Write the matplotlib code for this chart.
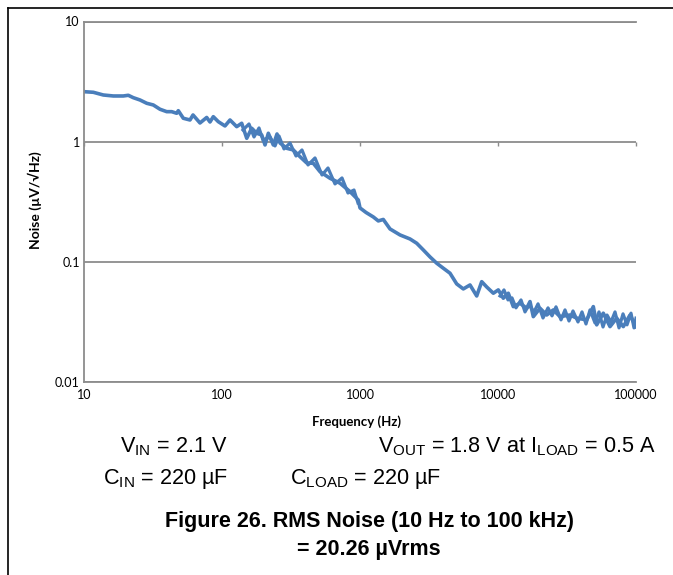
import matplotlib.pyplot as plt
from matplotlib.ticker import NullLocator
from matplotlib.lines import Line2D

# Output noise spectral density, main sweep
freq_hz = [10, 11.68, 13.8, 16.31, 19.27, 20.94, 22.76, 25.45, 28.47, 31.78,
           35.54, 39.75, 43.2, 46.96, 48.23, 52.43, 58.62, 61.65, 69.27, 77.46,
           81.85, 86.5, 94.0, 105.1, 114.3, 127.8, 138.9, 151.1, 164.2, 178.4,
           194.0, 205, 216.6, 235.4, 250.4, 263.3, 294.4, 328.6, 367.5, 411,
           458.7, 513, 606, 716.5, 846.4, 972, 1000, 1105, 1249, 1357,
           1475, 1650, 1950, 2303, 2576, 2876, 3216, 3596, 4014, 4490,
           5020, 5606, 6268, 7010, 7619, 8281, 9249, 10050, 10925, 11874,
           12906, 14431, 16143, 17058, 18024, 20150, 22540, 25160, 28140, 33250,
           37180, 43940, 49060, 51900, 57940, 64800, 72450, 80910, 90480, 100000]
noise_uv = [2.606, 2.576, 2.446, 2.40, 2.40, 2.432, 2.323, 2.223, 2.087, 2.020,
            1.861, 1.777, 1.777, 1.723, 1.811, 1.566, 1.515, 1.668, 1.431, 1.590,
            1.458, 1.614, 1.467, 1.351, 1.515, 1.333, 1.423, 1.067, 1.293, 1.175,
            1.137, 0.939, 1.175, 0.939, 1.159, 0.975, 0.881, 0.853, 0.750, 0.665,
            0.661, 0.563, 0.496, 0.451, 0.384, 0.327, 0.281, 0.2576, 0.2363, 0.219,
            0.2253, 0.1878, 0.1674, 0.155, 0.1428, 0.1256, 0.1099, 0.0974, 0.0885, 0.0804,
            0.0655, 0.0595, 0.0642, 0.0520, 0.0684, 0.0618, 0.0548, 0.0584, 0.0498, 0.0548,
            0.0424, 0.0452, 0.0411, 0.0467, 0.0350, 0.0411, 0.0361, 0.0398, 0.0350, 0.0361,
            0.0340, 0.0329, 0.0424, 0.0299, 0.0374, 0.0289, 0.0340, 0.0289, 0.0361, 0.0289]

# Second sweep, mid band
mid_freq_hz = [141.9, 156.9, 170.6, 185.4, 198.2, 222.7, 242.2, 258.8, 281.4, 311.1,
               343.8, 379.8, 420.1, 472, 530.5, 586.3, 659, 740.6, 818.5, 904.6, 967]
mid_noise_uv = [1.251, 1.404, 1.094, 1.300, 1.033, 1.094, 0.921, 1.115, 0.870, 0.975,
                0.760, 0.853, 0.640, 0.732, 0.528, 0.604, 0.445, 0.499, 0.374, 0.396, 0.309]

# Second sweep, high band
hf_freq_hz = [10340, 11050, 11820, 12630, 13500, 14680, 15690, 16770, 18240, 19500,
              21190, 23040, 24620, 26320, 28610, 30590, 32700, 34950, 37990, 40620,
              43420, 46420, 50460, 53940, 57670, 61650, 65900, 70450, 75320, 80520,
              86080, 92000, 96720, 100000]
hf_noise_uv = [0.0520, 0.0584, 0.0482, 0.0501, 0.0414, 0.0482, 0.0383, 0.0438, 0.0383, 0.0447,
               0.0341, 0.0414, 0.0355, 0.0422, 0.0329, 0.0398, 0.0322, 0.0390, 0.0316, 0.0383,
               0.0304, 0.0398, 0.0310, 0.0383, 0.0287, 0.0361, 0.0316, 0.0383, 0.0282, 0.0369,
               0.0299, 0.0374, 0.0282, 0.0340]

x_ticks = [10, 100, 1000, 10000, 100000]
x_tick_labels = ['10', '100', '1000', '10000', '100000']
y_ticks = [0.01, 0.1, 1, 10]
y_tick_labels = ['0.01', '0.1', '1', '10']

W, H = 673, 575
blue = '#4a7ebb'
grey = '#8c8c8c'

fig = plt.figure(figsize=(W / 100, H / 100), dpi=100)

ax = fig.add_axes([84 / W, 193 / H, 552 / W, 360.5 / H])
ax.set_xscale('log')
ax.set_yscale('log')
ax.set_xlim(10, 1e5)
ax.set_ylim(0.01, 10)

ax.plot(mid_freq_hz, mid_noise_uv, color=blue, lw=2.3, solid_joinstyle='round')
ax.plot(hf_freq_hz, hf_noise_uv, color=blue, lw=2.3, solid_joinstyle='round')
ax.plot(freq_hz, noise_uv, color=blue, lw=2.6, solid_joinstyle='round')

ax.set_xticks(x_ticks, x_tick_labels)
ax.set_yticks(y_ticks, y_tick_labels)
ax.xaxis.set_minor_locator(NullLocator())
ax.yaxis.set_minor_locator(NullLocator())
ax.tick_params(length=0, labelsize=9, labelfontfamily='Lato', colors='#000000')
ax.tick_params(axis='x', pad=5)
ax.tick_params(axis='y', pad=3)
ax.yaxis.grid(True, color=grey, lw=1.3)
for side in ['left', 'bottom', 'top']:
    ax.spines[side].set_color(grey)
    ax.spines[side].set_linewidth(1.3)
ax.spines['right'].set_visible(False)

# small decade marks on the 1 uV line
sec = ax.secondary_xaxis(2 / 3)
sec.set_xticks(x_ticks)
sec.xaxis.set_minor_locator(NullLocator())
sec.tick_params(direction='in', length=3, width=1, color=grey, labelbottom=False, labeltop=False)
sec.spines['bottom'].set_visible(False)
sec.spines['top'].set_visible(False)

ax.set_xlabel('Frequency (Hz)', fontsize=9.5, weight='bold', family='Lato')
ax.xaxis.set_label_coords((357 - 84) / 552, -(422 - 382) / 360.5)
ax.xaxis.label.set_va('center')
ax.set_ylabel('Noise (µV/√Hz)', fontsize=10, weight='bold', family='Lato', va='center')
ax.yaxis.set_label_coords(-(84 - 35) / 552, (382 - 200) / 360.5)

plt.rcParams['mathtext.fontset'] = 'custom'
plt.rcParams['mathtext.rm'] = 'Liberation Sans'
cond = dict(fontsize=15.6, family='Liberation Sans', va='baseline', ha='left')
fig.text(120 / W, 1 - 452 / H, r'V$_{\mathregular{IN}}$ = 2.1 V', **cond)
fig.text(378 / W, 1 - 452 / H,
         r'V$_{\mathregular{OUT}}$ = 1.8 V at I$_{\mathregular{LOAD}}$ = 0.5 A', **cond)
fig.text(103 / W, 1 - 484 / H, r'C$_{\mathregular{IN}}$ = 220 µF', **cond)
fig.text(290 / W, 1 - 484 / H, r'C$_{\mathregular{LOAD}}$ = 220 µF', **cond)

title = dict(fontsize=15.5, family='Liberation Sans', weight='bold', ha='center', va='center')
fig.text(369 / W, 1 - 522 / H, 'Figure 26. RMS Noise (10 Hz to 100 kHz)', **title)
fig.text(369 / W, 1 - 549 / H, '= 20.26 µVrms', **title)

# page frame
fig.add_artist(Line2D([8 / W, 1], [1 - 8 / H, 1 - 8 / H], color='black', lw=1.2))
fig.add_artist(Line2D([8 / W, 8 / W], [0, 1 - 8 / H], color='black', lw=1.2))

fig.savefig('out.png', dpi=100)
